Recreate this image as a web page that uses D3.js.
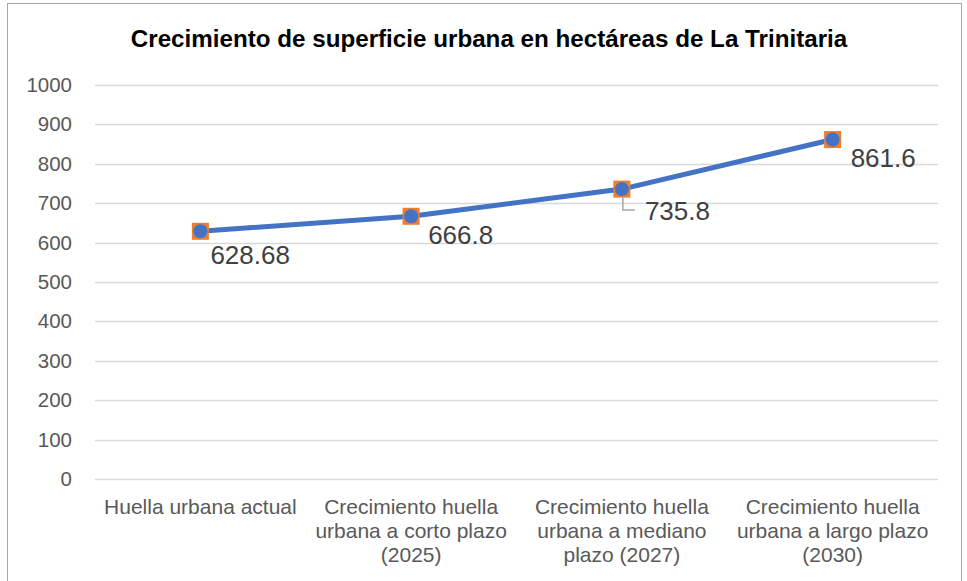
<!DOCTYPE html>
<html>
<head>
<meta charset="utf-8">
<script src="https://cdn.jsdelivr.net/npm/d3@7"></script>
<style>
  html, body { margin: 0; padding: 0; background: #fff; }
  svg { display: block; font-family: "Liberation Sans", Arial, sans-serif; }
</style>
</head>
<body>
<svg id="chart" width="967" height="581"></svg>
<script>
// Urban surface growth (hectares), La Trinitaria
const categories = [
  ["Huella urbana actual"],
  ["Crecimiento huella", "urbana a corto plazo", "(2025)"],
  ["Crecimiento huella", "urbana a mediano", "plazo (2027)"],
  ["Crecimiento huella", "urbana a largo plazo", "(2030)"]
];
const values = [628.68, 666.8, 735.8, 861.6];
const valueLabels = ["628.68", "666.8", "735.8", "861.6"];
const yTicks = [0, 100, 200, 300, 400, 500, 600, 700, 800, 900, 1000];
// label offsets from each point (dx, dy to baseline)
const labelOffsets = [[10, 33], [17, 28], [23, 31], [18, 27]];

const svg = d3.select("#chart");
const W = 967, H = 581;
const margin = { left: 95, right: 29, top: 85, bottom: 102 };

// chart frame
svg.append("rect")
  .attr("x", 7.5).attr("y", 3.5)
  .attr("width", 954).attr("height", 580)
  .attr("fill", "#fff").attr("stroke", "#a6a6a6").attr("stroke-width", 1);

svg.append("text")
  .attr("x", 489).attr("y", 47)
  .attr("text-anchor", "middle")
  .attr("font-size", 24.2).attr("font-weight", "bold").attr("fill", "#000")
  .text("Crecimiento de superficie urbana en hectáreas de La Trinitaria");

const x = d3.scaleBand()
  .domain(d3.range(categories.length))
  .range([margin.left, W - margin.right])
  .paddingInner(0).paddingOuter(0);

const y = d3.scaleLinear()
  .domain([0, 1000])
  .range([H - margin.bottom, margin.top]);

// gridlines
svg.append("g").selectAll("line")
  .data(yTicks)
  .join("line")
  .attr("x1", margin.left).attr("x2", W - margin.right)
  .attr("y1", d => Math.round(y(d)) + 0.5).attr("y2", d => Math.round(y(d)) + 0.5)
  .attr("stroke", "#d9d9d9").attr("stroke-width", 1.3);

// y axis labels
const yAxis = d3.axisLeft(y).tickValues(yTicks).tickSize(0).tickPadding(0).tickFormat(d3.format("d"));
const gy = svg.append("g")
  .attr("transform", `translate(${margin.left - 23},0)`)
  .call(yAxis);
gy.select(".domain").remove();
gy.selectAll("text")
  .attr("font-size", 20.5).attr("fill", "#595959")
  .attr("font-family", "Liberation Sans, Arial, sans-serif");

// category labels
const xAxis = d3.axisBottom(x).tickSize(0).tickFormat(() => "");
const gx = svg.append("g")
  .attr("transform", `translate(0,${H - margin.bottom})`)
  .call(xAxis);
gx.select(".domain").remove();
gx.selectAll(".tick").each(function(d) {
  const t = d3.select(this).append("text")
    .attr("text-anchor", "middle")
    .attr("font-size", 21).attr("fill", "#595959")
    .attr("font-family", "Liberation Sans, Arial, sans-serif");
  categories[d].forEach((line, i) => {
    t.append("tspan").attr("x", 0).attr("y", 35 + i * 24).text(line);
  });
});

const cx = i => x(i) + x.bandwidth() / 2;

// line
const line = d3.line().x((d, i) => cx(i)).y(d => y(d));
svg.append("path")
  .datum(values)
  .attr("d", line)
  .attr("fill", "none")
  .attr("stroke", "#4472c4").attr("stroke-width", 5)
  .attr("stroke-linejoin", "round").attr("stroke-linecap", "round");

// orange square markers
svg.append("g").selectAll("rect")
  .data(values)
  .join("rect")
  .attr("x", (d, i) => cx(i) - 8.5).attr("y", d => y(d) - 8.5)
  .attr("width", 17).attr("height", 17)
  .attr("fill", "#ed7d31");

// blue circle markers
svg.append("g").selectAll("circle")
  .data(values)
  .join("circle")
  .attr("cx", (d, i) => cx(i)).attr("cy", d => y(d))
  .attr("r", 7)
  .attr("fill", "#4472c4");

// leader line for the third label
{
  const px = cx(2), py = y(values[2]);
  svg.append("path")
    .attr("d", `M${px + 1},${py + 8} V${py + 21} H${px + 13}`)
    .attr("fill", "none").attr("stroke", "#a6a6a6").attr("stroke-width", 1.5);
}

// value labels
svg.append("g").selectAll("text")
  .data(values)
  .join("text")
  .attr("x", (d, i) => cx(i) + labelOffsets[i][0])
  .attr("y", (d, i) => y(d) + labelOffsets[i][1])
  .attr("font-size", 26).attr("fill", "#404040")
  .text((d, i) => valueLabels[i]);
</script>
</body>
</html>
